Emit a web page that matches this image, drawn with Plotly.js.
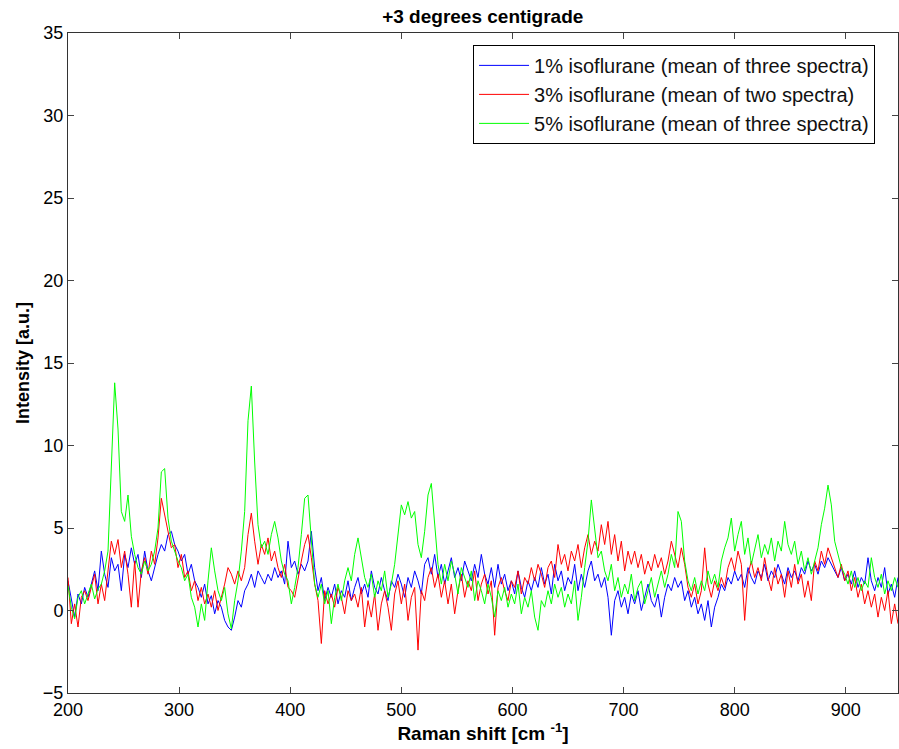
<!DOCTYPE html>
<html>
<head>
<meta charset="utf-8">
<script src="https://cdn.plot.ly/plotly-3.0.1.min.js"></script>
<style>html,body{margin:0;padding:0;background:#fff;}#chart{width:899px;height:749px;}</style>
</head>
<body>
<div id="chart"></div>
<script>
// Raman shift sampling: start 200 cm^-1, step 3 cm^-1 (250 samples, 200..947)
const shiftStart = 200;
const shiftStep = 3;

const seriesNames = [
  "1% isoflurane (mean of three spectra)",
  "3% isoflurane (mean of two spectra)",
  "5% isoflurane (mean of three spectra)"
];

// 1% isoflurane (blue)
const iso1 = [
  1.8, 0.6, -0.4, 1.0, 0.4, 1.4, 0.8, 1.6, 2.4, 1.2,
  3.6, 2.2, 1.4, 3.2, 2.4, 2.8, 1.2, 3.4, 2.6, 3.8,
  2.8, 3.4, 2.0, 3.6, 2.4, 1.8, 2.6, 3.4, 4.0, 3.6,
  4.6, 4.8, 4.0, 3.6, 3.0, 3.4, 2.2, 2.8, 1.8, 1.4,
  0.8, 1.6, 0.4, 0.9, -0.2, 0.6, 0.2, -0.6, -1.0, -1.2,
  -0.4, 0.6, 0.2, 1.2, 1.6, 2.2, 1.4, 2.4, 2.0, 1.6,
  2.2, 1.8, 2.6, 2.0, 2.4, 1.6, 4.2, 2.6, 3.0, 2.2,
  2.8, 2.4, 3.0, 4.8, 2.6, 1.2, 2.0, 0.6, 1.4, 0.8,
  1.6, 0.4, 1.2, 0.8, 1.8, 0.6, 1.4, 2.0, 1.0, 1.6,
  0.8, 2.4, 1.4, 1.0, 2.0, 1.2, 0.6, 1.8, 1.4, 2.2,
  1.6, 0.8, 2.0, 1.4, 2.4, 1.8, 1.0, 2.8, 3.2, 2.2,
  3.4, 2.0, 2.8, 1.6, 2.4, 3.2, 2.0, 2.6, 1.8, 3.0,
  2.4, 1.8, 2.8, 2.0, 3.4, 2.2, 1.6, 2.6, 1.4, 2.8,
  1.6, 2.2, 1.2, 1.8, 1.0, 2.4, 1.4, 0.8, 1.8, 1.2,
  2.0, 1.4, 2.6, 1.6, 2.2, 1.0, 2.8, 1.8, 2.4, 1.2,
  2.0, 1.6, 2.8, 1.2, 2.2, 1.4, 2.4, 3.0, 1.8, 2.2,
  1.4, 2.0, 0.8, -1.5, 0.6, 1.2, 0.2, 0.8, -0.2, 1.0,
  0.4, 1.2, 0.0, 0.8, 1.6, 0.6, 0.2, 1.0, -0.4, 0.8,
  1.6, 1.2, 2.0, 1.4, 1.8, 0.6, 1.2, 0.2, 0.8, -0.2,
  0.4, -0.6, 0.6, -1.0, 0.2, 0.8, 1.6, 1.2, 2.0, 1.6,
  2.4, 1.8, 2.2, 1.4, 2.6, 2.0, 1.6, 2.4, 2.0, 2.8,
  1.8, 2.4, 2.0, 2.8, 2.2, 1.6, 2.6, 2.0, 2.4, 1.8,
  2.6, 2.2, 3.0, 2.4, 2.8, 2.2, 3.0, 2.6, 3.2, 2.8,
  2.4, 2.0, 2.6, 1.8, 2.2, 1.6, 2.4, 1.4, 2.0, 1.6,
  3.2, 1.8, 1.2, 2.0, 1.4, 2.6, 1.0, 1.6, 0.8, 2.0
];

// 3% isoflurane (red)
const iso3 = [
  2.0, -0.8, 0.4, -1.0, 0.8, 1.2, 0.6, 1.4, 2.2, 0.4,
  1.6, 0.6, 2.4, 4.2, 3.4, 4.3, 2.6, 3.6, 2.2, 0.2,
  3.0, 0.2, 2.4, 3.2, 2.2, 3.6, 2.8, 4.4, 6.8, 5.8,
  4.6, 3.8, 4.0, 2.6, 3.4, 2.0, 2.4, 1.2, 1.8, 0.6,
  1.4, 0.4, 1.0, 0.2, 1.2, 0.0, 0.8, 1.6, 2.6, 2.2,
  1.6, 2.4, 1.8, 2.6, 4.6, 5.9, 4.2, 2.8, 4.0, 3.4,
  4.4, 3.0, 3.6, 2.6, 2.0, 2.8, 1.4, 1.2, 0.8, 2.0,
  3.0, 4.0, 4.6, 3.2, 1.6, 0.6, -2.0, 1.2, 0.4, 1.0,
  0.2, 1.4, 0.8, -0.2, 1.2, 0.6, 1.0, 0.2, 1.4, -1.0,
  0.6, -0.4, 1.0, -1.2, 0.4, 1.2, 0.2, -1.2, 1.0, 1.8,
  0.4, 1.6, -0.6, 0.8, 1.4, -2.4, 1.2, 0.6, 2.0, 2.6,
  1.4, 2.2, 0.8, 1.8, 0.4, 1.6, -0.2, 1.2, 2.2, 0.8,
  1.8, 1.2, 2.4, 0.6, 1.6, 2.2, 1.0, 1.8, -1.5, 1.4,
  2.0, 1.2, 0.6, 1.8, 1.4, 2.4, 1.0, 2.0, 1.6, 2.6,
  1.8, 2.8, 2.2, 1.4, 2.6, 3.0, 2.0, 4.0, 2.8, 3.4,
  2.4, 3.6, 3.0, 4.0, 2.6, 3.8, 4.6, 3.4, 4.2, 3.6,
  5.2, 4.0, 5.4, 3.4, 4.6, 3.0, 4.2, 2.4, 3.6, 2.8,
  3.6, 2.6, 3.4, 2.2, 3.0, 2.4, 3.4, 2.6, 3.2, 2.2,
  3.0, 4.2, 3.4, 2.6, 3.8, 2.8, 1.4, 0.8, 1.6, 0.4,
  1.2, 3.8, 1.6, 0.8, 1.8, 1.2, 2.0, 1.4, 2.6, 3.2,
  2.4, 3.6, 2.8, -0.6, 2.2, 3.0, 2.0, 2.6, 1.8, 3.2,
  2.0, 1.2, 2.6, 1.6, 2.2, 0.8, 2.4, 1.4, 2.8, 1.6,
  2.2, 0.8, 1.8, 0.6, 3.0, 2.4, 3.6, 2.8, 3.8, 3.2,
  2.6, 2.0, 2.8, 1.8, 2.4, 1.2, 2.0, 0.8, 1.6, 0.4,
  1.2, 0.2, 1.0, -0.4, 0.8, 0.0, 1.2, -0.8, 0.4, -0.8
];

// 5% isoflurane (green)
const iso5 = [
  1.5, 0.2, -0.5, 0.8, 1.2, 0.4, 1.0, 1.6, 0.7, 1.3,
  1.6, 2.4, 3.6, 8.2, 13.8, 11.0, 6.0, 5.4, 7.0, 4.5,
  3.4, 2.6, 2.2, 3.0, 2.4, 2.8, 3.6, 5.0, 8.4, 8.6,
  5.6, 4.2, 3.6, 3.0, 2.6, 1.8, 2.2, 0.8, 0.2, -1.0,
  0.4, -0.6, 1.8, 3.8, 2.4, 1.2, 0.6, 1.4, -0.2, -1.1,
  0.6, 1.8, 3.6, 6.0, 11.5, 13.6, 9.0, 5.2, 3.8, 4.2,
  3.4, 4.6, 5.4, 4.4, 3.0, 2.2, 1.8, 0.4, 1.4, 2.6,
  4.6, 6.8, 7.0, 4.2, 1.6, 0.8, 1.6, 0.4, 1.2, -0.8,
  0.8, 1.6, 0.6, 1.8, 2.6, 1.8, 3.4, 4.4, 3.2, 2.0,
  1.4, 2.2, 0.8, 1.8, 1.2, 2.4, 0.8, 1.6, 2.8, 4.6,
  6.4, 5.8, 6.6, 5.6, 6.0, 4.0, 3.2, 4.8, 7.0, 7.7,
  5.4, 2.8, 1.6, 2.8, 1.8, 3.0, 2.2, 1.0, 2.6, 2.0,
  1.4, 2.4, 0.6, 1.8, 1.2, 0.4, 1.6, 0.8, -0.4, 1.2,
  0.6, 1.4, 0.2, 1.0, 0.4, 1.6, -0.2, 0.8, 0.2, 1.2,
  -0.4, -1.2, 0.6, 0.2, 1.2, 0.4, 1.6, 0.8, 1.4, 0.2,
  1.0, 0.4, 1.8, -0.6, 0.8, 2.6, 4.2, 6.7, 4.8, 3.2,
  3.6, 2.4, 1.8, 2.8, 1.2, 2.0, 0.8, 1.6, 1.0, 2.2,
  0.6, 1.4, 1.8, 0.4, 1.2, 2.0, 0.8, 1.6, 2.4, 1.4,
  2.2, 3.4, 2.6, 6.0, 5.4, 3.0, 1.8, 1.2, 2.0, 1.0,
  1.8, 1.2, 2.4, 1.6, 2.2, 1.4, 3.0, 3.8, 4.4, 5.6,
  3.6, 4.6, 5.4, 3.4, 4.4, 2.8, 3.8, 4.6, 3.2, 4.0,
  3.4, 4.4, 3.0, 4.2, 3.6, 5.4, 4.0, 3.4, 4.2, 2.8,
  3.6, 2.4, 3.2, 2.2, 3.0, 3.8, 5.2, 6.2, 7.6, 6.4,
  4.2, 3.4, 2.6, 2.2, 1.6, 2.4, 1.4, 2.0, 1.2, 1.8,
  1.4, 3.2, 2.0, 1.4, 2.2, 1.0, 1.8, 1.2, 2.0, 1.4
];

const seriesValues = [iso1, iso3, iso5];
const seriesColors = ["#0000ff", "#ff0000", "#00ff00"];

const shifts = iso1.map((_, i) => shiftStart + i * shiftStep);

const traces = seriesValues.map((vals, k) => ({
  type: "scatter",
  mode: "lines",
  x: shifts,
  y: vals,
  name: seriesNames[k],
  line: { color: seriesColors[k], width: 1 }
}));

const font = "Arial, 'Liberation Sans', sans-serif";

const layout = {
  width: 899,
  height: 749,
  margin: { l: 68, r: 1, t: 33, b: 56 },
  paper_bgcolor: "#ffffff",
  plot_bgcolor: "#ffffff",
  showlegend: true,
  title: {
    text: "<b>+3 degrees centigrade</b>",
    font: { family: font, size: 19, color: "#000" },
    x: 0.537, xanchor: "center", y: 0.978, yanchor: "middle"
  },
  xaxis: {
    range: [200, 947],
    tickvals: [200, 300, 400, 500, 600, 700, 800, 900],
    ticks: "inside", ticklen: 6, tickcolor: "#444",
    showline: true, linecolor: "#333", linewidth: 1, mirror: "ticks",
    showgrid: false, zeroline: false,
    tickfont: { family: font, size: 18, color: "#000" },
    title: { text: "<b>Raman shift [cm <sup>-1</sup>]</b>", font: { family: font, size: 19, color: "#000" }, standoff: 8 }
  },
  yaxis: {
    range: [-5, 35],
    tickvals: [-5, 0, 5, 10, 15, 20, 25, 30, 35],
    ticks: "inside", ticklen: 6, tickcolor: "#444",
    showline: true, linecolor: "#333", linewidth: 1, mirror: "ticks",
    showgrid: false, zeroline: false,
    tickfont: { family: font, size: 18, color: "#000" },
    title: { text: "<b>Intensity [a.u.]</b>", font: { family: font, size: 18, color: "#000" }, standoff: 8 }
  },
  legend: {
    x: 0.488, y: 0.982, xanchor: "left", yanchor: "top",
    bgcolor: "#ffffff", bordercolor: "#000", borderwidth: 1,
    font: { family: font, size: 20, color: "#111" },
    itemwidth: 50,
    tracegroupgap: 0
  }
};

Plotly.newPlot("chart", traces, layout, { displayModeBar: false, staticPlot: true });
</script>
</body>
</html>
